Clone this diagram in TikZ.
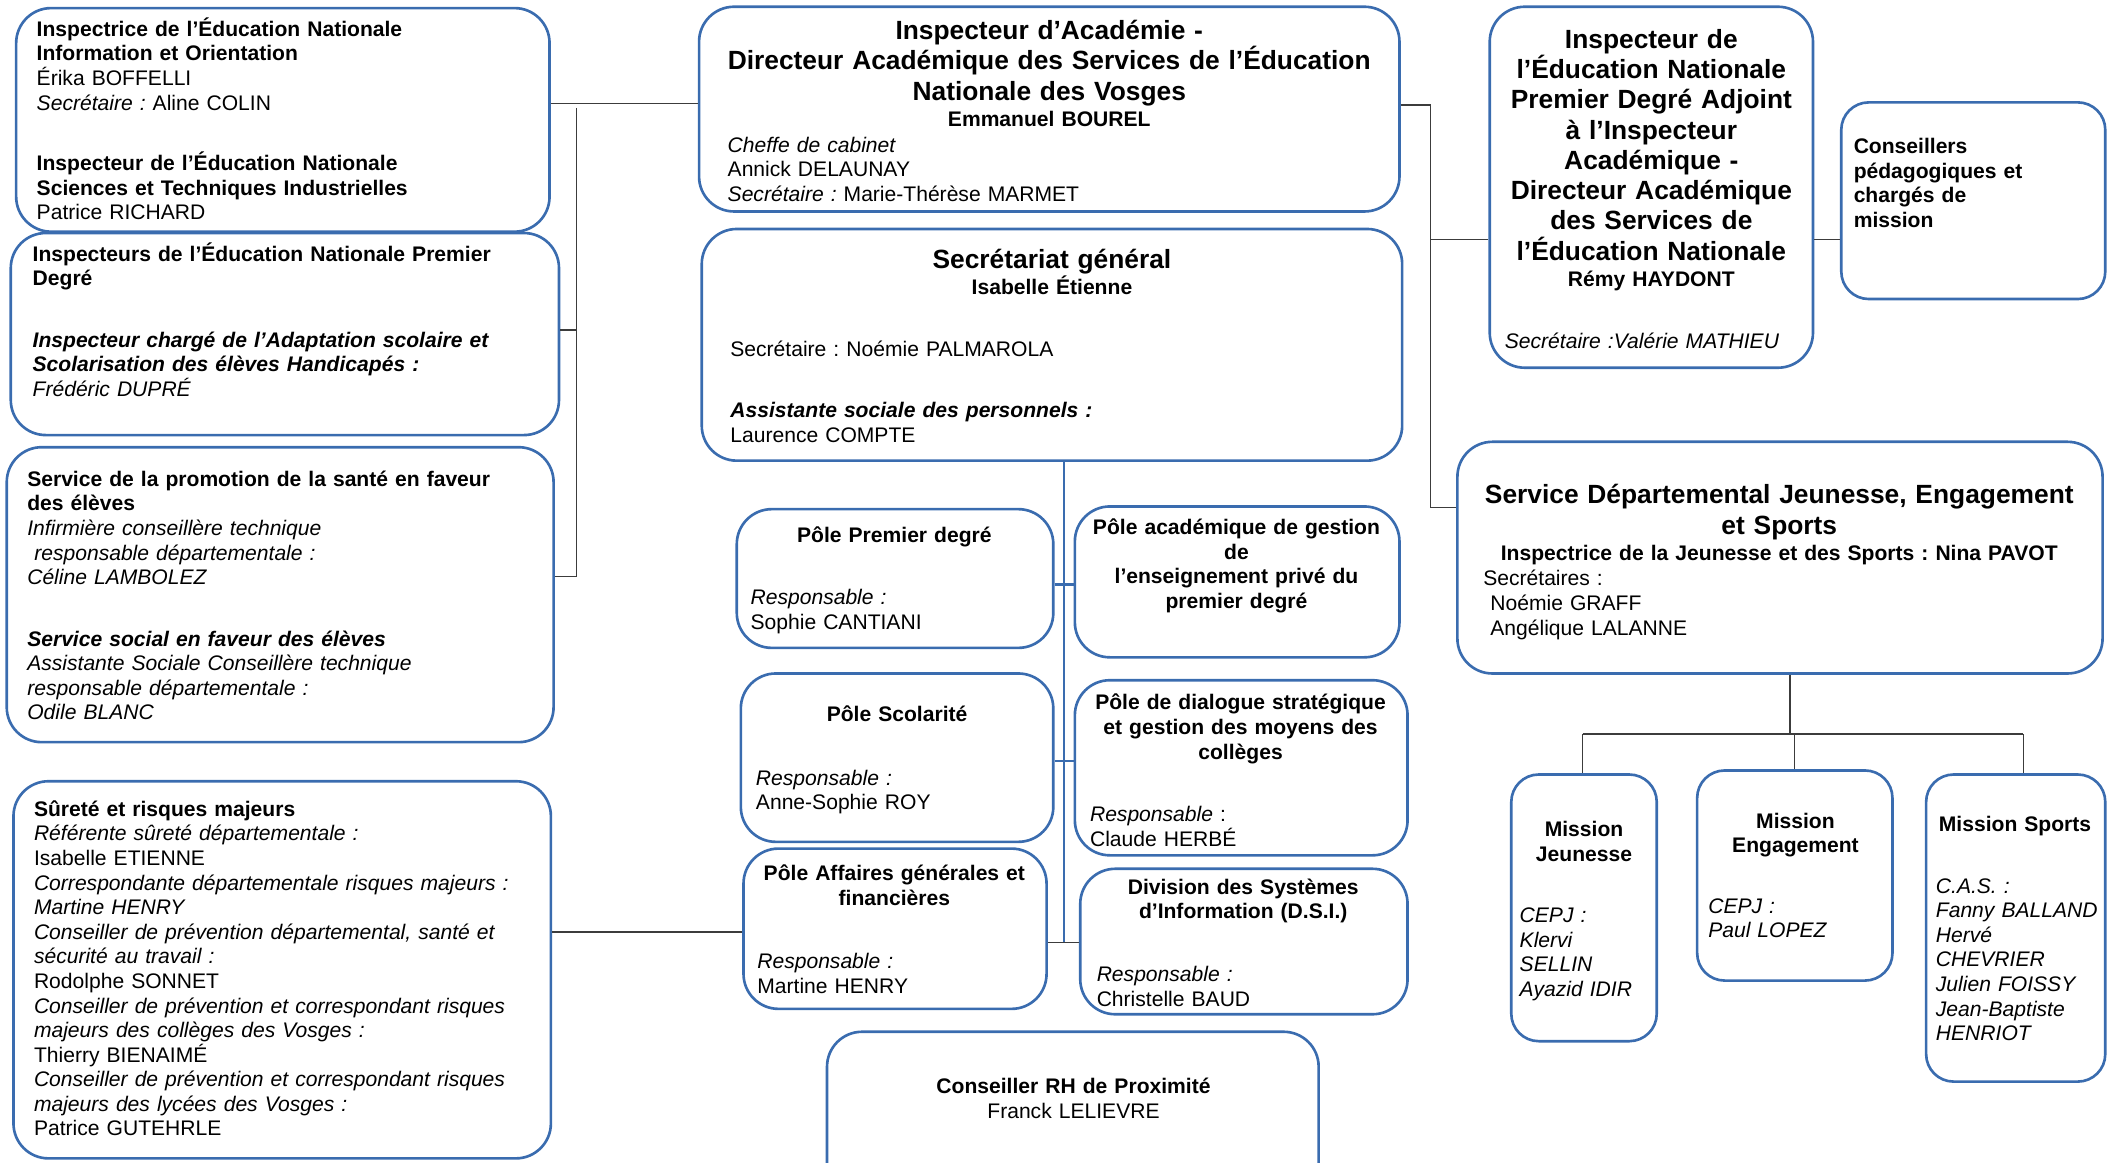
\documentclass[tikz,border=0pt]{standalone}
\usepackage{fontspec}
\setmainfont{Liberation Sans}
\usetikzlibrary{fit}
\definecolor{boxblue}{RGB}{58,108,175}
\definecolor{linkgray}{RGB}{60,60,60}
\frenchspacing

\tikzset{
  orgbox/.style={draw=boxblue, line width=1.5pt, rounded corners=0.7cm, inner sep=0pt},
  smallbox/.style={orgbox, rounded corners=0.55cm},
  txt/.style={anchor=base west, inner sep=0pt, text width=10cm, align=left,
    font=\fontsize{12}{14}\selectfont},
  ctr/.style={anchor=base, inner sep=0pt, text width=6cm, align=center,
    font=\bfseries\fontsize{12}{14}\selectfont},
  bigctr/.style={ctr, text width=13.5cm, font=\bfseries\fontsize{15}{17.6}\selectfont},
  link/.style={draw=linkgray, line width=0.7pt},
  bluelink/.style={draw=boxblue, line width=1.3pt},
}

\begin{document}
\begin{tikzpicture}[x=0.02694cm, y=-0.02694cm]
\useasboundingbox (0,0) rectangle (1568,863);

% left column
\node[orgbox, fit={(12,6) (408,172)}] (A) {};
\node[txt] (Atxt) at (27,27) {\textbf{Inspectrice de l’Éducation Nationale}\\
  \textbf{Information et Orientation}\\
  Érika BOFFELLI\\
  \textit{Secrétaire :} Aline COLIN\\[20.5pt]
  \textbf{Inspecteur de l’Éducation Nationale}\\
  \textbf{Sciences et Techniques Industrielles}\\
  Patrice RICHARD};

\node[orgbox, fit={(8,173) (415,323)}] (B) {};
\node[txt] (Btxt) at (24,194) {\textbf{Inspecteurs de l’Éducation Nationale Premier}\\
  \textbf{Degré}\\[21pt]
  \textbf{\textit{Inspecteur chargé de l’Adaptation scolaire et}}\\
  \textbf{\textit{Scolarisation des élèves Handicapés :}}\\
  \textit{Frédéric DUPRÉ}};

\node[orgbox, fit={(5,332) (411,551)}] (C) {};
\node[txt] (Ctxt) at (20,361) {\textbf{Service de la promotion de la santé en faveur}\\
  \textbf{des élèves}\\
  \textit{Infirmière conseillère technique}\\
  \hspace*{4pt}\textit{responsable départementale :}\\
  \textit{Céline LAMBOLEZ}\\[21pt]
  \textbf{\textit{Service social en faveur des élèves}}\\
  \textit{Assistante Sociale Conseillère technique}\\
  \textit{responsable départementale :}\\
  \textit{Odile BLANC}};

\node[orgbox, fit={(10,580) (409,860)}] (D) {};
\node[txt] (Dtxt) at (25,606) {\textbf{Sûreté et risques majeurs}\\
  \textit{Référente sûreté départementale :}\\
  Isabelle ETIENNE\\
  \textit{Correspondante départementale risques majeurs :}\\
  \textit{Martine HENRY}\\
  \textit{Conseiller de prévention départemental, santé et}\\
  \textit{sécurité au travail :}\\
  Rodolphe SONNET\\
  \textit{Conseiller de prévention et correspondant risques}\\
  \textit{majeurs des collèges des Vosges :}\\
  Thierry BIENAIMÉ\\
  \textit{Conseiller de prévention et correspondant risques}\\
  \textit{majeurs des lycées des Vosges :}\\
  Patrice GUTEHRLE};

% centre column
\node[orgbox, fit={(519,5) (1039,157)}] (IA) {};
\node[bigctr] (IAtitle) at (779,29) {Inspecteur d’Académie -\\
  Directeur Académique des Services de l’Éducation\\
  Nationale des Vosges};
\node[ctr] (IAname) at (779,94) {Emmanuel BOUREL};
\node[txt] (IAtxt) at (540,113) {\textit{Cheffe de cabinet}\\
  Annick DELAUNAY\\
  \textit{Secrétaire :} Marie-Thérèse MARMET};

\node[orgbox, fit={(521,170) (1041,342)}] (SG) {};
\node[bigctr] (SGtitle) at (781,199) {Secrétariat général};
\node[ctr] (SGname) at (781,219) {Isabelle Étienne};
\node[txt] (SGtxt) at (542,265) {Secrétaire : Noémie PALMAROLA\\[20.5pt]
  \textbf{\textit{Assistante sociale des personnels :}}\\
  Laurence COMPTE};

\node[orgbox, fit={(547,378) (782,481)}] (P1) {};
\node[ctr] (P1title) at (664,403) {Pôle Premier degré};
\node[txt, text width=5.5cm] (P1txt) at (557,449) {\textit{Responsable :}\\ Sophie CANTIANI};

\node[orgbox, fit={(798,376) (1039,488)}] (P2) {};
\node[ctr, text width=6.3cm] (P2title) at (918,397) {Pôle académique de gestion\\ de\\
  l’enseignement privé du\\ premier degré};

\node[orgbox, fit={(550,500) (782,625)}] (P3) {};
\node[ctr] (P3title) at (666,536) {Pôle Scolarité};
\node[txt, text width=5.5cm] (P3txt) at (561,583) {\textit{Responsable :}\\ Anne-Sophie ROY};

\node[orgbox, fit={(798,505) (1045,635)}] (P4) {};
\node[ctr, text width=6.5cm] (P4title) at (921,527) {Pôle de dialogue stratégique\\
  et gestion des moyens des\\ collèges};
\node[txt, text width=5.5cm] (P4txt) at (809,610) {\textit{Responsable} :\\ Claude HERBÉ};

\node[orgbox, fit={(552,630) (777,749)}] (P5) {};
\node[ctr] (P5title) at (664,654) {Pôle Affaires générales et\\ financières};
\node[txt, text width=5.5cm] (P5txt) at (562,719) {\textit{Responsable :}\\ Martine HENRY};

\node[orgbox, fit={(802,645) (1045,753)}] (P6) {};
\node[ctr] (P6title) at (923,664) {Division des Systèmes\\ d’Information (D.S.I.)};
\node[txt, text width=5.5cm] (P6txt) at (814,729) {\textit{Responsable :}\\ Christelle BAUD};

\node[orgbox, fit={(614,766) (979,890)}] (P7) {};
\node[ctr, text width=9cm] (P7title) at (797,812) {Conseiller RH de Proximité\\
  {\mdseries Franck LELIEVRE}};

% right column
\node[orgbox, fit={(1106,5) (1346,273)}] (ADJ) {};
\node[bigctr, text width=6.2cm, font=\bfseries\fontsize{15}{17.2}\selectfont] (ADJtitle) at (1226,36)
  {Inspecteur de\\ l’Éducation Nationale\\ Premier Degré Adjoint\\ à l’Inspecteur\\
   Académique -\\ Directeur Académique\\ des Services de\\ l’Éducation Nationale};
\node[ctr] (ADJname) at (1226,213) {Rémy HAYDONT};
\node[txt, text width=6cm] (ADJtxt) at (1117,259) {\textit{Secrétaire :Valérie MATHIEU}};

\node[smallbox, fit={(1367,76) (1563,222)}] (CONS) {};
\node[txt, text width=4.8cm, font=\bfseries\fontsize{12}{14}\selectfont] (CONStxt) at (1376,114)
  {Conseillers\\ pédagogiques et\\ chargés de\\ mission};

\node[orgbox, fit={(1082,328) (1561,500)}] (SDJES) {};
\node[bigctr, text width=12.5cm] (SDJEStitle) at (1321,374)
  {Service Départemental Jeunesse, Engagement\\ et Sports};
\node[ctr, text width=12.5cm] (SDJESname) at (1321,416)
  {Inspectrice de la Jeunesse et des Sports : Nina PAVOT};
\node[txt, text width=8cm] (SDJEStxt) at (1101,435) {Secrétaires :\\
  \hspace*{4pt}Noémie GRAFF\\ \hspace*{4pt}Angélique LALANNE};

\node[smallbox, fit={(1122,575) (1230,773)}] (MJ) {};
\node[ctr, text width=2.7cm] (MJtitle) at (1176,621) {Mission\\ Jeunesse};
\node[txt, text width=2.7cm, font=\itshape\fontsize{12}{14}\selectfont] (MJtxt) at (1128,685)
  {CEPJ :\\ Klervi\\ SELLIN\\ Ayazid IDIR};

\node[smallbox, fit={(1260,572) (1405,728)}] (ME) {};
\node[ctr, text width=3.6cm] (MEtitle) at (1333,615) {Mission\\ Engagement};
\node[txt, text width=3.5cm, font=\itshape\fontsize{12}{14}\selectfont] (MEtxt) at (1268,678)
  {CEPJ :\\ Paul LOPEZ};

\node[smallbox, fit={(1430,575) (1563,803)}] (MS) {};
\node[ctr, text width=3.5cm] (MStitle) at (1496,617) {Mission Sports};
\node[txt, text width=3.4cm, font=\itshape\fontsize{12}{14}\selectfont] (MStxt) at (1437,663)
  {C.A.S. :\\ Fanny BALLAND\\ Hervé\\ CHEVRIER\\ Julien FOISSY\\ Jean-Baptiste\\ HENRIOT};

% junctions
\coordinate (lbusT) at (428,80);
\coordinate (lbusB) at (428,428);
\coordinate (rbusT) at (1062,78);
\coordinate (rbusM) at (1062,178);
\coordinate (rbusB) at (1062,377);
\coordinate (cbus) at (790,700);
\coordinate (mbus) at (1329,545);
\coordinate (mbusL) at (1175,545);
\coordinate (mbusR) at (1502,545);

% connectors
\draw[link] (A.east |- 0,77) -- (IA.west |- 0,77);
\draw[link] (lbusT) -- (lbusB);
\draw[link] (B.east |- 0,245) -- (lbusT |- 0,245);
\draw[link] (C.east |- lbusB) -- (lbusB);
\draw[link] (D.east |- 0,692) -- (P5.west |- 0,692);

\draw[bluelink] (SG.south -| cbus) -- (cbus);
\draw[bluelink] (P1.east |- 0,434) -- (P2.west |- 0,434);
\draw[bluelink] (P3.east |- 0,565) -- (P4.west |- 0,565);
\draw[link] (P5.east |- cbus) -- (P6.west |- cbus);

\draw[link] (IA.east |- rbusT) -- (rbusT) -- (rbusB) -- (SDJES.west |- rbusB);
\draw[link] (rbusM) -- (ADJ.west |- rbusM);
\draw[link] (ADJ.east |- rbusM) -- (CONS.west |- rbusM);

\draw[link] (SDJES.south -| mbus) -- (mbus);
\draw[link] (mbusL) -- (mbusR);
\draw[link] (mbusL) -- (MJ.north -| mbusL);
\draw[link] (ME.north |- mbus) -- (ME.north);
\draw[link] (mbusR) -- (MS.north -| mbusR);
\end{tikzpicture}
\end{document}
